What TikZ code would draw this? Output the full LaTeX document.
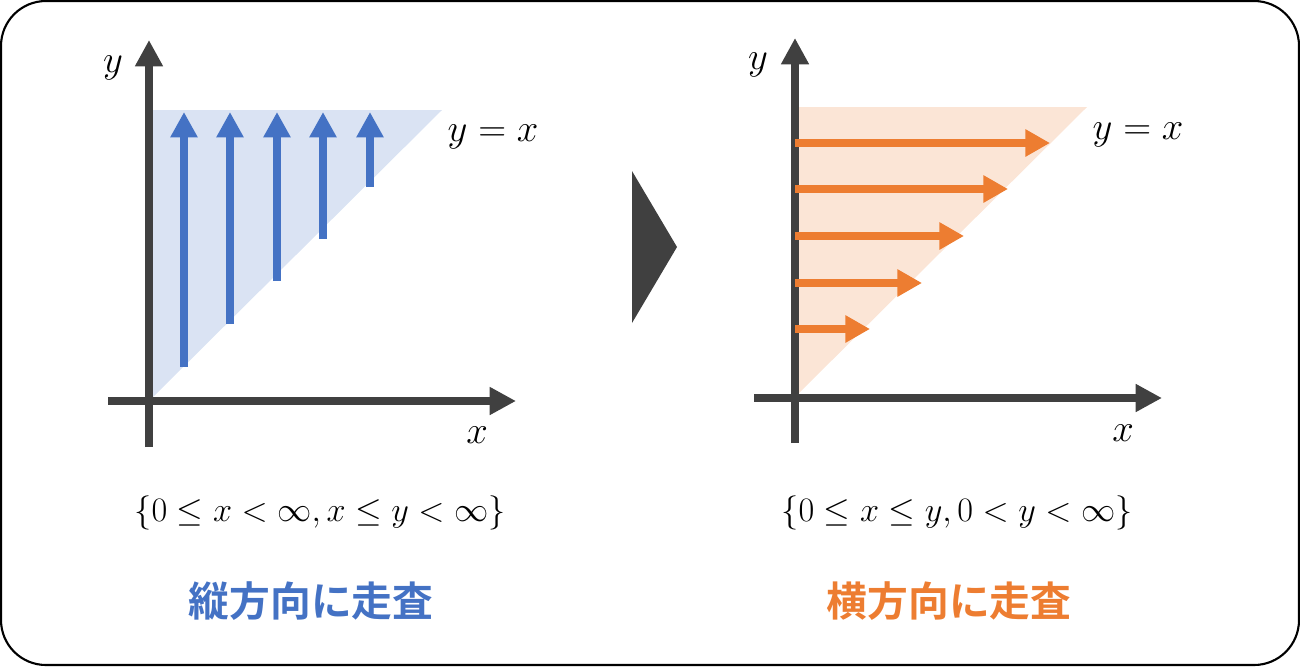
\documentclass[tikz,border=0pt]{standalone}
\usepackage{fix-cm}
\usepackage{fontspec}
\usepackage{amsmath}
\usetikzlibrary{arrows.meta}
\newfontfamily\jpfont{Noto Sans CJK JP}[BoldFont={* Bold}]
\definecolor{axisgray}{HTML}{404040}
\definecolor{scanblue}{HTML}{4472C4}
\definecolor{areablue}{HTML}{DAE3F3}
\definecolor{scanorange}{HTML}{ED7D31}
\definecolor{areaorange}{HTML}{FBE5D6}

\begin{document}
\begin{tikzpicture}[x=0.02cm, y=-0.02cm,
		axis/.style={line width=4.5pt, axisgray, -{Triangle[length=15pt, width=15pt]}},
		scanv/.style={line width=4.5pt, scanblue, -{Triangle[length=14.5pt, width=14.7pt]}},
		scanh/.style={line width=4.5pt, scanorange, -{Triangle[length=14pt, width=14.7pt]}},
		lbl/.style={font=\fontsize{22}{26}\selectfont, inner sep=0pt},
		cond/.style={font=\fontsize{19.5}{24}\selectfont, inner sep=0pt},
		title/.style={font=\jpfont\bfseries\fontsize{23.2}{28}\selectfont, inner sep=0pt}]
	\useasboundingbox (0,0) rectangle (1300,666);
	\draw[line width=1.2pt, rounded corners=0.9cm] (1,1) rectangle (1299,665);

	% vertical scan
	\fill[areablue] (153,397) -- (153,110) -- (442,110) -- cycle;
	\draw[axis] (108,401) -- (516,401);
	\draw[axis] (149,447) -- (149,40);
	\draw[scanv] (184,367) -- (184,112);
	\draw[scanv] (230,324) -- (230,112);
	\draw[scanv] (277,281) -- (277,112);
	\draw[scanv] (323,239) -- (323,112);
	\draw[scanv] (370,187) -- (370,112);
	\node[lbl] (ylabv) at (113,68) {$y$};
	\node[lbl] (xlabv) at (477,435) {$x$};
	\node[lbl] (diagv) at (493,137) {$y=x$};
	\node[cond] (condv) at (320,513) {$\{0\le x<\infty, x\le y<\infty\}$};
	\node[title, scanblue] (titlev) at (311,601) {縦方向に走査};

	% separator
	\fill[axisgray] (632,171) -- (677,247) -- (632,323) -- cycle;

	% horizontal scan
	\fill[areaorange] (799,393) -- (799,107) -- (1087,107) -- cycle;
	\draw[axis] (754,398) -- (1162,398);
	\draw[axis] (795,443) -- (795,38);
	\draw[scanh] (795,143) -- (1050,143);
	\draw[scanh] (795,189) -- (1008,189);
	\draw[scanh] (795,236) -- (964,236);
	\draw[scanh] (795,283) -- (922,283);
	\draw[scanh] (795,329) -- (870,329);
	\node[lbl] (ylabh) at (758,65) {$y$};
	\node[lbl] (xlabh) at (1123,433) {$x$};
	\node[lbl] (diagh) at (1138,135) {$y=x$};
	\node[cond] (condh) at (957,513) {$\{0\le x\le y, 0<y<\infty\}$};
	\node[title, scanorange] (titleh) at (949,601) {横方向に走査};
\end{tikzpicture}
\end{document}
